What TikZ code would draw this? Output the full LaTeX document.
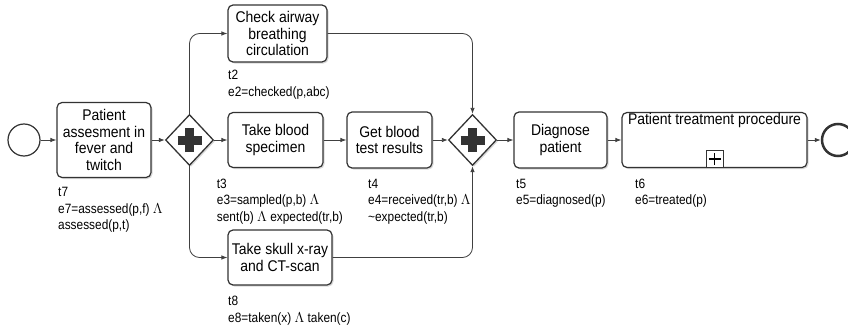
\documentclass[tikz,border=0pt]{standalone}
\usepackage{fontspec}
\newfontfamily\bpmnfont[FakeStretch=0.9]{Liberation Sans}
\newfontfamily\labelfont[FakeStretch=0.88]{Liberation Sans}
\usetikzlibrary{arrows.meta,positioning,shapes.geometric,shadows}

\begin{document}
\begin{tikzpicture}
    [
        x=1pt, y=-1pt,
        Task/.style={rectangle, rounded corners=5pt, draw=black!80, line width=1.2pt, fill=white, align=center, inner sep=1pt,
            font=\bpmnfont\fontsize{15.5}{16.7}\selectfont, drop shadow={shadow xshift=1.5pt, shadow yshift=-1.5pt, fill=black!30}},
        Title/.style={inner sep=1pt, font=\bpmnfont\fontsize{15.5}{16.7}\selectfont},
        Gateway/.style={diamond, draw=black!80, line width=1.3pt, fill=white, minimum width=48pt, minimum height=51pt, inner sep=0pt,
            drop shadow={shadow xshift=1.5pt, shadow yshift=-1.5pt, fill=black!30}},
        Event/.style={circle, draw=black!80, fill=white, minimum size=32pt, inner sep=0pt},
        Label/.style={align=left, anchor=north west, inner sep=0pt, font=\labelfont\fontsize{13.5}{16.7}\selectfont},
        Flow/.style={draw=black!75, line width=0.8pt, rounded corners=10pt, -{Latex[length=6pt,width=4.5pt]}}
    ]
    \useasboundingbox (0,0) rectangle (848,332);

    \node[Event, line width=1.2pt] (Start) at (24,140) {};
    \node[Task, minimum width=94pt, minimum height=75pt] (Assess) at (104,140) {Patient\\assesment in\\fever and\\twitch};
    \node[Gateway] (Split) at (189.5,140) {};
    \node[Task, minimum width=99pt, minimum height=57pt] (Check) at (277.5,33.5) {Check airway\\breathing\\circulation};
    \node[Task, minimum width=95pt, minimum height=55pt] (Blood) at (275.5,140) {Take blood\\specimen};
    \node[Task, minimum width=104pt, minimum height=55pt] (Xray) at (280,257.5) {Take skull x-ray\\and CT-scan};
    \node[Task, minimum width=85pt, minimum height=56pt] (Results) at (389.5,140) {Get blood\\test results};
    \node[Gateway] (Join) at (472.5,140) {};
    \node[Task, minimum width=93pt, minimum height=56pt] (Diagnose) at (560.5,140) {Diagnose\\patient};
    \node[Task, minimum width=185pt, minimum height=55pt] (Treat) at (714.5,140) {};
    \node[Title, below=0pt of Treat.north] (TreatTitle) {Patient treatment procedure};
    \node[draw=black!80, line width=0.8pt, fill=white, minimum size=17pt, inner sep=0pt, anchor=south] (TreatMarker) at (Treat.south) {};
    \node[Event, line width=2.5pt] (End) at (838,140) {};

    % gateway crosses and subprocess marker
    \foreach \g in {Split,Join}
        \draw[line width=9pt, black!80] ([xshift=-12pt]\g.center) -- ([xshift=12pt]\g.center)
            ([yshift=-12pt]\g.center) -- ([yshift=12pt]\g.center);
    \draw[line width=1.5pt] ([xshift=-6pt]TreatMarker.center) -- ([xshift=6pt]TreatMarker.center)
        ([yshift=-6pt]TreatMarker.center) -- ([yshift=6pt]TreatMarker.center);

    \draw[Flow] (Start) -- (Assess);
    \draw[Flow] (Assess) -- (Split);
    \draw[Flow] (Split) -- (Blood);
    \draw[Flow] (Split.north) |- (Check.west);
    \draw[Flow] (Split.south) |- (Xray.west);
    \draw[Flow] (Blood) -- (Results);
    \draw[Flow] (Results) -- (Join);
    \draw[Flow] (Check.east) -| (Join.north);
    \draw[Flow] (Xray.east) -| (Join.south);
    \draw[Flow] (Join) -- (Diagnose);
    \draw[Flow] (Diagnose) -- (Treat);
    \draw[Flow] (Treat) -- (End);

    \node[Label] (AssessLabel) at (58,187) {t7\\e7=assessed(p,f) $\Lambda$\\assessed(p,t)};
    \node[Label] (CheckLabel) at (228,70.3) {t2\\e2=checked(p,abc)};
    \node[Label] (BloodLabel) at (216.7,178.6) {t3\\e3=sampled(p,b) $\Lambda$\\sent(b) $\Lambda$ expected(tr,b)};
    \node[Label] (ResultsLabel) at (368,178.6) {t4\\e4=received(tr,b) $\Lambda$\\\textasciitilde expected(tr,b)};
    \node[Label] (DiagnoseLabel) at (516,178.6) {t5\\e5=diagnosed(p)};
    \node[Label] (TreatLabel) at (635,178.6) {t6\\e6=treated(p)};
    \node[Label] (XrayLabel) at (228,295.8) {t8\\e8=taken(x) $\Lambda$ taken(c)};
\end{tikzpicture}
\end{document}
